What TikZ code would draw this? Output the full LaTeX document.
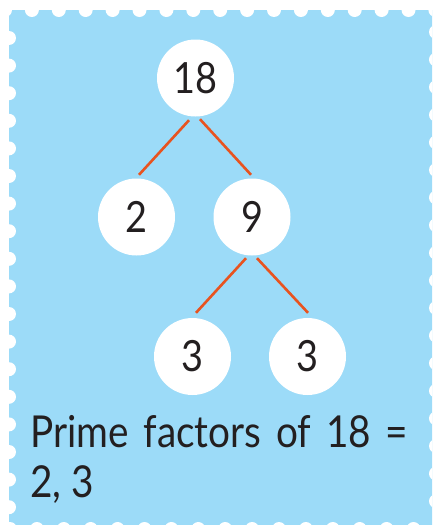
\documentclass[tikz,border=0pt]{standalone}
\usepackage{fontspec}
\setmainfont[FakeStretch=0.88]{Lato}
\usetikzlibrary{calc}
\definecolor{stampblue}{HTML}{9CDBF8}
\definecolor{edgeorange}{HTML}{E8531F}
\definecolor{inkdark}{HTML}{231F20}
\tikzset{
  numcircle/.style={circle, fill=white, minimum size=77pt, inner sep=0pt,
    font=\fontsize{43}{48}\selectfont, text=inkdark},
  factoredge/.style={draw=edgeorange, line width=2.6pt},
  captiontext/.style={inner sep=0pt, anchor=base west,
    font=\fontsize{44}{50}\selectfont, text=inkdark},
  scallop/.style={fill=white}
}
\begin{document}
\begin{tikzpicture}[x=1pt,y=-1pt]
\useasboundingbox (0,0) rectangle (432,525);
\clip (0,0) rectangle (432,525);
\fill[white] (0,0) rectangle (432,525);
\fill[stampblue] (9,10) rectangle (436,529);
\foreach \k in {0,...,16} {
  \fill[scallop] ({5+26.9*\k},10) circle (7);
  \fill[scallop] ({10+26.9*\k},529) circle (7);
}
\foreach \k in {0,...,17} {
  \fill[scallop] (9,{38+27.6*\k}) circle (7);
  \fill[scallop] (436,{32+27.6*\k}) circle (7);
}
\node[numcircle] (n18) at (195.5,78) {18};
\node[numcircle] (n2) at (136.5,217) {2};
\node[numcircle] (n9) at (252,217) {9};
\node[numcircle] (n3a) at (192.5,356.5) {3};
\node[numcircle] (n3b) at (307.5,356.5) {3};
\draw[factoredge] ($(n18.south)+(-6.5,3.5)$) -- ($(n2.north)+(2.5,-3.5)$);
\draw[factoredge] ($(n18.south)+(4.5,2.5)$) -- ($(n9.north)+(-1,-3.5)$);
\draw[factoredge] ($(n9.south)+(-6,2.5)$) -- ($(n3a.north)+(3.5,-5)$);
\draw[factoredge] ($(n9.south)+(5,2.5)$) -- ($(n3b.north)+(0.5,-5)$);
\node[captiontext] (cap1) at (30,447) {\hbox to 378pt{Prime\hfill factors\hfill of\hfill 18\hfill =}};
\node[captiontext] (cap2) at (30,497) {2, 3};
\end{tikzpicture}
\end{document}
